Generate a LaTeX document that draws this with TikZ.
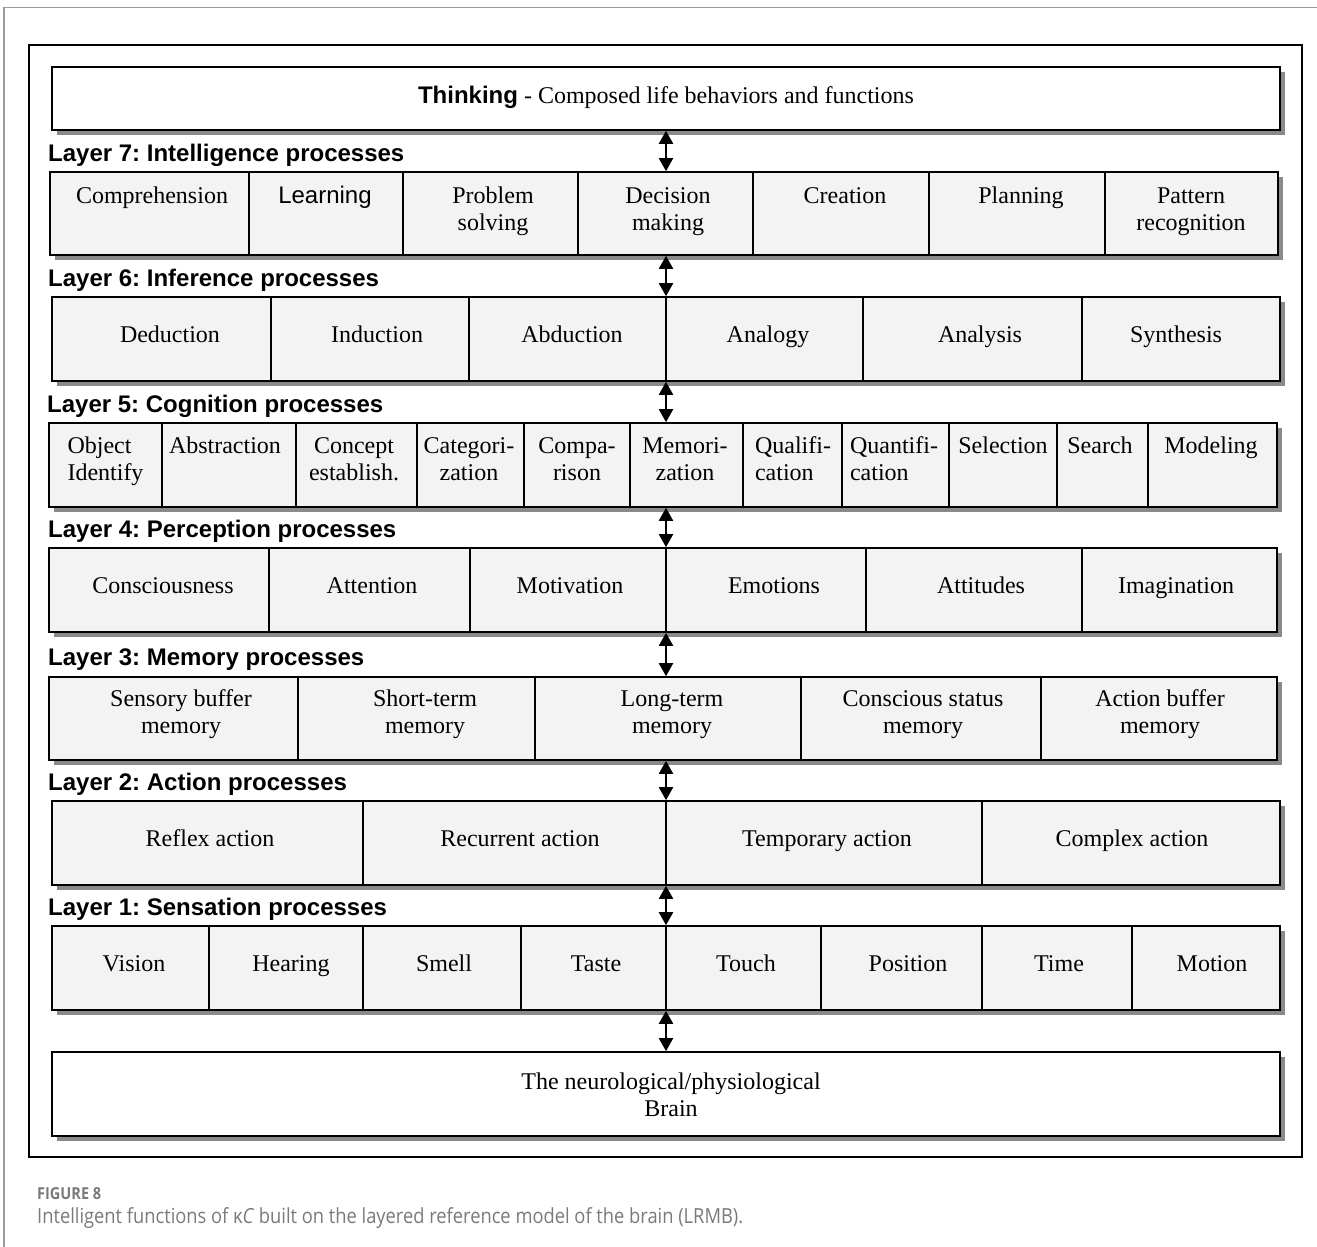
\documentclass[tikz,border=0pt]{standalone}
\usepackage{fontspec}
\setmainfont{Liberation Serif}
\setsansfont{Liberation Sans}
\newfontfamily\capfont[FakeStretch=0.88]{Open Sans}
\usetikzlibrary{arrows.meta,fit}
\frenchspacing

\definecolor{cellfill}{HTML}{F3F3F3}
\definecolor{shadowc}{HTML}{8A8A8A}
\definecolor{pagec}{HTML}{9A9A9A}
\definecolor{capc}{HTML}{7A7A7A}

% left-aligned two-line cell text
\newcommand\lft[1]{\begin{tabular}[t]{@{}l@{}}#1\end{tabular}}

% one layer: name, top, bottom, first-baseline offset, cells a/b/text-x/label
\newcommand\layerrow[5]{%
  \foreach \a/\b/\tx/\t in {#5}{
    \fill[shadowc] ({\a+5},{#2+5}) rectangle ({\b+5},{#3+5});
  }
  \foreach \a/\b/\tx/\t [count=\i] in {#5}{
    \node[cell, fit={(\a,#2) (\b,#3)}] (#1-\i) {};
    \node[celltext] (#1-\i-t) at (\tx,{#2+#4-20}) {\rule{0pt}{20pt}\t};
  }
}

\begin{document}
\begin{tikzpicture}[x=1pt,y=-1pt,
  cell/.style={draw=black, line width=1.6pt, fill=cellfill, inner sep=0pt},
  plainbox/.style={draw=black, line width=1.6pt, fill=white, inner sep=0pt},
  celltext/.style={anchor=north, inner sep=0pt, align=center,
    font=\fontsize{24}{27}\selectfont},
  layertitle/.style={anchor=base west, inner sep=0pt,
    font=\fontsize{24}{27}\selectfont\sffamily\bfseries},
  link/.style={line width=2pt,
    {Triangle[length=13pt,width=14pt]}-{Triangle[length=13pt,width=14pt]}}]

\useasboundingbox (0,0) rectangle (1317,1247);

% page edge and outer frame
\draw[pagec, line width=1.5pt] (4,1247) -- (4,7.5) -- (1317,7.5);
\node[draw=black, line width=1.4pt, inner sep=0pt, fit={(29,45) (1302,1157)}] (frame) {};

% top box
\fill[shadowc] (57,72) rectangle (1285,135);
\node[plainbox, fit={(52,67) (1280,130)}] (think) {};
\node[inner sep=0pt, font=\fontsize{24}{27}\selectfont] (think-t) at (666,97)
  {{\sffamily\bfseries Thinking} - Composed life behaviors and functions};

% layer titles
\node[layertitle] (t7) at (48,161) {Layer 7: Intelligence processes};
\node[layertitle] (t6) at (48,286) {Layer 6: Inference processes};
\node[layertitle] (t5) at (47,412) {Layer 5: Cognition processes};
\node[layertitle] (t4) at (48,537) {Layer 4: Perception processes};
\node[layertitle] (t3) at (48,665) {Layer 3: Memory processes};
\node[layertitle] (t2) at (48,790) {Layer 2: Action processes};
\node[layertitle] (t1) at (48,915) {Layer 1: Sensation processes};

% layers
\layerrow{L7}{172}{255}{31}{50/249/152/Comprehension, 249/403/325/{\sffamily Learning},
  403/578/493/{Problem\\solving}, 578/753/668/{Decision\\making}, 753/929/845/Creation,
  929/1105/1021/Planning, 1105/1278/1191/{Pattern\\recognition}}

\layerrow{L6}{297}{381}{45}{52/271/170/Deduction, 271/469/377/Induction, 469/666/572/Abduction,
  666/863/768/Analogy, 863/1082/980/Analysis, 1082/1280/1176/Synthesis}

\layerrow{L5}{423}{507}{30}{49/162/105.5/{\lft{Object\\Identify}}, 162/296/225/Abstraction,
  296/417/354/{Concept\\establish.}, 417/524/469/{Categori-\\zation}, 524/630/577/{Compa-\\rison},
  630/743/685/{Memori-\\zation}, 743/842/793/{\lft{Qualifi-\\cation}},
  842/949/894/{\lft{Quantifi-\\cation}}, 949/1057/1003/Selection, 1057/1148/1100/Search,
  1148/1277/1211/Modeling}

\layerrow{L4}{548}{632}{45}{49/269/163/Consciousness, 269/470/372/Attention, 470/666/570/Motivation,
  666/866/774/Emotions, 866/1082/981/Attitudes, 1082/1277/1176/Imagination}

\layerrow{L3}{677}{760}{29}{49/298/181/{Sensory buffer\\memory}, 298/535/425/{Short-term\\memory},
  535/801/672/{Long-term\\memory}, 801/1041/923/{Conscious status\\memory},
  1041/1277/1160/{Action buffer\\memory}}

\layerrow{L2}{801}{885}{45}{52/363/210/Reflex action, 363/666/520/Recurrent action,
  666/982/827/Temporary action, 982/1280/1132/Complex action}

\layerrow{L1}{926}{1010}{45}{52/209/134/Vision, 209/363/291/Hearing, 363/521/444/Smell,
  521/666/596/Taste, 666/821/746/Touch, 821/982/908/Position, 982/1132/1059/Time,
  1132/1280/1212/Motion}

% bottom box
\fill[shadowc] (57,1057) rectangle (1285,1141);
\node[plainbox, fit={(52,1052) (1280,1136)}] (brain) {};
\node[celltext] (brain-t) at (671,{1052+37-20}) {\rule{0pt}{20pt}The neurological/physiological\\Brain};

% links between layers
\draw[link] (think.south) -- (think.south |- L7-1.north);
\draw[link] (L7-1.south -| think.south) -- (L6-1.north -| think.south);
\draw[link] (L6-1.south -| think.south) -- (L5-1.north -| think.south);
\draw[link] (L5-1.south -| think.south) -- (L4-1.north -| think.south);
\draw[link] (L4-1.south -| think.south) -- (L3-1.north -| think.south);
\draw[link] (L3-1.south -| think.south) -- (L2-1.north -| think.south);
\draw[link] (L2-1.south -| think.south) -- (L1-1.north -| think.south);
\draw[link] (L1-1.south -| think.south) -- (brain.north);

% caption
\node[anchor=base west, inner sep=0pt, text=capc, font=\capfont\bfseries\fontsize{16.5}{18}\selectfont]
  (capnum) at (37,1199) {FIGURE 8};
\node[anchor=base west, inner sep=0pt, text=capc, font=\capfont\fontsize{20.8}{23}\selectfont]
  (captext) at (37,1223) {Intelligent functions of κ\textit{C} built on the layered reference model of the brain (LRMB).};
\end{tikzpicture}
\end{document}
